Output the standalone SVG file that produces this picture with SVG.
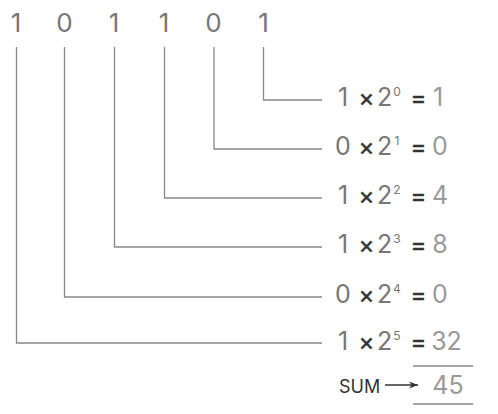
<svg xmlns="http://www.w3.org/2000/svg" width="498" height="414" viewBox="0 0 498 414">
<style>
text{font-family:Inter,"Liberation Sans",sans-serif;text-anchor:middle}
.bit{font-size:26px;fill:#777}
.d{font-size:25px;fill:#777}
.op{font-size:24px;fill:#333;stroke:#333;stroke-width:0.5}
.res{font-size:25px;fill:#999}
.sup{font-size:12px;fill:#777}
.ln{fill:none;stroke:#888;stroke-width:1.3}
.sum{font-size:18px;fill:#333;text-anchor:start}
</style>
<defs>
<marker id="ah" viewBox="0 0 10 10" refX="10" refY="5" markerWidth="9" markerHeight="9" markerUnits="userSpaceOnUse" orient="auto">
<path d="M0,1 L10,5 L0,9 L3,5 Z" fill="#333"/>
</marker>
</defs>
<g id="bits">
<text class="bit" x="16" y="32">1</text>
<text class="bit" x="64.5" y="32">0</text>
<text class="bit" x="114" y="32">1</text>
<text class="bit" x="164" y="32">1</text>
<text class="bit" x="213.5" y="32">0</text>
<text class="bit" x="263.5" y="32">1</text>
</g>
<g id="connectors">
<path class="ln" d="M263.5,47 V100 H322"/>
<path class="ln" d="M214,47 V149 H322"/>
<path class="ln" d="M164.5,47 V198 H322"/>
<path class="ln" d="M114.5,47 V247 H322"/>
<path class="ln" d="M64.5,47 V297 H322"/>
<path class="ln" d="M16.5,47 V343 H322"/>
<path d="M385,385 H418" fill="none" stroke="#333" stroke-width="1.3" marker-end="url(#ah)"/>
<path class="ln" d="M413,366 H473 M413,404 H473"/>
</g>
<g id="row0"><text class="d" x="343" y="106">1</text><text class="op" x="366.5" y="106">×</text><text class="d" x="384.5" y="106">2</text><text class="sup" x="397" y="96">0</text><text class="op" x="418.5" y="106">=</text><text class="res" x="438" y="106">1</text></g>
<g id="row1"><text class="d" x="343" y="155">0</text><text class="op" x="366.5" y="155">×</text><text class="d" x="384.5" y="155">2</text><text class="sup" x="397" y="145">1</text><text class="op" x="418.5" y="155">=</text><text class="res" x="440" y="155">0</text></g>
<g id="row2"><text class="d" x="343" y="204">1</text><text class="op" x="366.5" y="204">×</text><text class="d" x="384.5" y="204">2</text><text class="sup" x="397" y="194">2</text><text class="op" x="418.5" y="204">=</text><text class="res" x="440" y="204">4</text></g>
<g id="row3"><text class="d" x="343" y="253">1</text><text class="op" x="366.5" y="253">×</text><text class="d" x="384.5" y="253">2</text><text class="sup" x="397" y="243">3</text><text class="op" x="418.5" y="253">=</text><text class="res" x="440" y="253">8</text></g>
<g id="row4"><text class="d" x="343" y="303">0</text><text class="op" x="366.5" y="303">×</text><text class="d" x="384.5" y="303">2</text><text class="sup" x="397" y="293">4</text><text class="op" x="418.5" y="303">=</text><text class="res" x="440" y="303">0</text></g>
<g id="row5"><text class="d" x="343" y="350">1</text><text class="op" x="366.5" y="350">×</text><text class="d" x="384.5" y="350">2</text><text class="sup" x="397" y="340">5</text><text class="op" x="418.5" y="350">=</text><text class="res" x="446.5" y="350">32</text></g>
<g id="sum">
<text class="sum" x="339" y="393">SUM</text>
<text class="res" x="448" y="394">45</text>
</g>
</svg>
